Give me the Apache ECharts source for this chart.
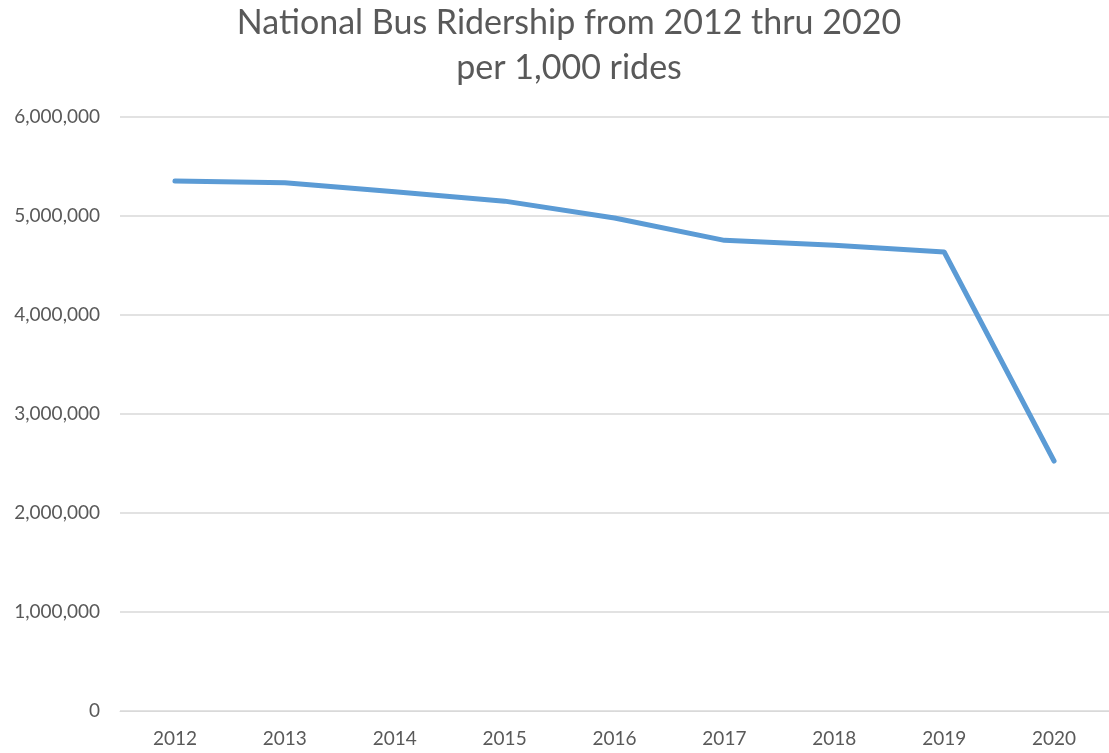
<!DOCTYPE html>
<html>
<head>
    <meta charset="UTF-8">
    <title>National Bus Ridership</title>
    <script src="https://cdn.jsdelivr.net/npm/echarts@6/dist/echarts.min.js"></script>
    <style>
        html, body { margin: 0; padding: 0; background: #fff; }
        #chart { width: 1109px; height: 753px; }
    </style>
</head>
<body>
<div id="chart"></div>
<script>
    // years on the x axis
    var years = ['2012', '2013', '2014', '2015', '2016', '2017', '2018', '2019', '2020'];
    // ridership, in thousands of rides
    var ridership = [5354000, 5336000, 5245000, 5150000, 4980000, 4754000, 4705000, 4636000, 2525000];

    var chart = echarts.init(document.getElementById('chart'));
    chart.setOption({
        backgroundColor: '#fff',
        textStyle: { fontFamily: 'Lato' },
        title: {
            text: 'National Bus Ridership from 2012 thru 2020\nper 1,000 rides',
            left: 564,
            textAlign: 'center',
            top: -4,
            textStyle: {
                fontFamily: 'Lato',
                fontWeight: 'normal',
                fontSize: 34,
                lineHeight: 45,
                color: '#595959'
            }
        },
        grid: { left: 120, right: 0, top: 117, bottom: 42 },
        xAxis: {
            type: 'category',
            data: years,
            boundaryGap: true,
            axisLine: { lineStyle: { color: '#d9d9d9', width: 1 } },
            axisTick: { show: false },
            axisLabel: { color: '#595959', fontSize: 19, margin: 18 }
        },
        yAxis: {
            type: 'value',
            min: 0,
            max: 6000000,
            interval: 1000000,
            axisLine: { show: false },
            axisTick: { show: false },
            splitLine: { lineStyle: { color: '#d9d9d9', width: 1.5 } },
            axisLabel: {
                color: '#595959',
                fontSize: 19,
                margin: 20,
                formatter: function (v) { return v.toLocaleString('en-US'); }
            }
        },
        series: [{
            type: 'line',
            data: ridership,
            showSymbol: false,
            symbol: 'none',
            lineStyle: { color: '#5B9BD5', width: 5, cap: 'round', join: 'round' },
            itemStyle: { color: '#5B9BD5' },
            animation: false
        }]
    });
</script>
</body>
</html>
